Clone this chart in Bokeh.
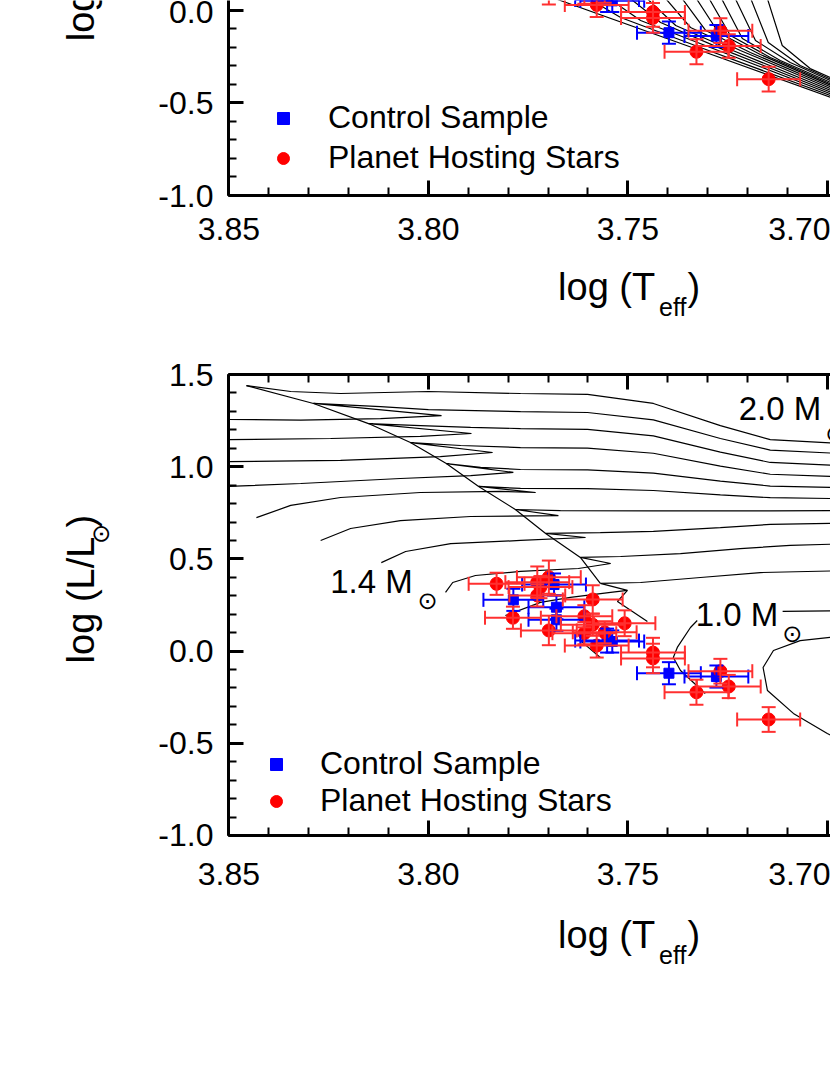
import math
from bokeh.plotting import figure
from bokeh.models import (Range1d, LinearAxis, Whisker, TeeHead, ColumnDataSource, Label,
                          Legend, LegendItem, FixedTicker, PrintfTickFormatter,
                          CustomJSTickFormatter)
from bokeh.layouts import column, row
from bokeh.embed import file_html
from bokeh.resources import INLINE

FONT = "Liberation Sans"

# ---------------- data ----------------
# Planet hosting stars (red)
phs_logT = [3.7829, 3.7727, 3.7698, 3.7719, 3.7727, 3.7788, 3.7698, 3.7588, 3.7609, 3.7588,
            3.7609, 3.7558, 3.7578, 3.7508, 3.7437, 3.7437, 3.7268, 3.7247, 3.7328, 3.7147]
phs_logL = [0.365, 0.374, 0.401, 0.347, 0.302, 0.181, 0.112, 0.280, 0.189, 0.143,
            0.097, 0.102, 0.030, 0.151, -0.008, -0.040, -0.109, -0.192, -0.223, -0.371]
phs_eT = [0.007, 0.008, 0.008, 0.008, 0.007, 0.007, 0.007, 0.0075, 0.007, 0.008,
          0.008, 0.008, 0.008, 0.0077, 0.008, 0.008, 0.008, 0.008, 0.008, 0.0079]
phs_eL = [0.06, 0.085, 0.09, 0.06, 0.06, 0.06, 0.08, 0.077, 0.06, 0.06,
          0.06, 0.06, 0.065, 0.07, 0.08, 0.08, 0.067, 0.063, 0.068, 0.067]

# Control sample (blue)
ctl_logT = [3.7787, 3.7685, 3.7679, 3.7679, 3.7552, 3.7539, 3.7397, 3.7278]
ctl_logL = [0.278, 0.361, 0.238, 0.170, 0.057, 0.052, -0.120, -0.138]
ctl_eT = [0.0075, 0.008, 0.007, 0.007, 0.008, 0.008, 0.008, 0.008]
ctl_eL = [0.06, 0.06, 0.065, 0.06, 0.065, 0.06, 0.06, 0.06]

# Evolutionary tracks (lower panel)
trk_A_T = [3.8456, 3.8345, 3.8220, 3.8000, 3.7769, 3.7601, 3.7436, 3.7268, 3.7143, 3.6942]
trk_A_L = [1.440, 1.408, 1.397, 1.408, 1.397, 1.392, 1.343, 1.223, 1.147, 1.123]
trk_B_T = [3.8501, 3.8320, 3.8120, 3.7967, 3.8288, 3.8120, 3.8000, 3.7769, 3.7601, 3.7436,
           3.7268, 3.7143, 3.6942]
trk_B_L = [1.256, 1.253, 1.261, 1.277, 1.343, 1.326, 1.310, 1.299, 1.294, 1.254,
           1.153, 1.090, 1.069]
trk_C_T = [3.8501, 3.8245, 3.8020, 3.7892, 3.8150, 3.8020, 3.7894, 3.7769, 3.7601, 3.7436,
           3.7268, 3.7143, 3.6942]
trk_C_L = [1.147, 1.153, 1.164, 1.180, 1.234, 1.223, 1.213, 1.207, 1.203, 1.167,
           1.079, 1.023, 1.004]
trk_D_T = [3.8501, 3.8220, 3.7970, 3.7839, 3.8045, 3.7919, 3.7769, 3.7601, 3.7436, 3.7268,
           3.7143, 3.6942]
trk_D_L = [1.028, 1.034, 1.055, 1.077, 1.131, 1.115, 1.104, 1.101, 1.073, 1.003, 0.959, 0.944]
trk_E_T = [3.8501, 3.8320, 3.8070, 3.7894, 3.7787, 3.7955, 3.7869, 3.7769, 3.7601, 3.7436,
           3.7268, 3.7143, 3.6942]
trk_E_L = [0.893, 0.909, 0.936, 0.952, 0.969, 1.017, 0.996, 0.985, 0.983, 0.965,
           0.922, 0.895, 0.886]
trk_F_T = [3.8431, 3.8345, 3.8220, 3.8020, 3.7819, 3.7731, 3.7874, 3.7769, 3.7601, 3.7436,
           3.7268, 3.7143, 3.6942]
trk_F_L = [0.724, 0.790, 0.833, 0.860, 0.866, 0.860, 0.893, 0.882, 0.881, 0.871,
           0.847, 0.832, 0.826]
trk_G_T = [3.8270, 3.8195, 3.8070, 3.7894, 3.7674, 3.7782, 3.7669, 3.7436, 3.7268, 3.7143, 3.6942]
trk_G_L = [0.600, 0.665, 0.708, 0.730, 0.735, 0.768, 0.762, 0.760, 0.760, 0.761, 0.762]
trk_H_T = [3.8118, 3.8057, 3.7944, 3.7769, 3.7606, 3.7706, 3.7569, 3.7436, 3.7268, 3.7143, 3.6942]
trk_H_L = [0.480, 0.540, 0.583, 0.600, 0.616, 0.638, 0.643, 0.649, 0.670, 0.687, 0.694]
trk_I_T = [3.7957, 3.7939, 3.7882, 3.7769, 3.7624, 3.7543, 3.7619, 3.7518, 3.7368, 3.7218,
           3.7093, 3.6942]
trk_I_L = [0.318, 0.372, 0.410, 0.432, 0.448, 0.475, 0.508, 0.513, 0.529, 0.556, 0.573, 0.583]
trk_J_T = [3.7807, 3.7719, 3.7644, 3.7543, 3.7501, 3.7569, 3.7468, 3.7318, 3.7168, 3.6942]
trk_J_L = [0.193, 0.264, 0.291, 0.318, 0.329, 0.367, 0.372, 0.399, 0.426, 0.437]
trk_zig_T = [3.7501, 3.7526, 3.7451]
trk_zig_L = [0.329, 0.269, 0.161]
trk_tail_T = [3.7619, 3.7569]
trk_tail_L = [0.057, -0.035]
trk_K1_T = [3.7306, 3.7368, 3.7386, 3.7376, 3.7343, 3.7326]
trk_K1_L = [-0.230, -0.105, -0.035, 0.020, 0.128, 0.166]
trk_K2_T = [3.7112, 3.6942]
trk_K2_L = [0.215, 0.220]
trk_L_T = [3.6942, 3.6993, 3.7068, 3.7135, 3.7161, 3.7150, 3.7085, 3.7000, 3.6942]
trk_L_L = [0.079, 0.074, 0.057, 0.003, -0.089, -0.214, -0.338, -0.447, -0.512]
trk_diag_T = [3.8456, 3.8288, 3.8150, 3.8045, 3.7955, 3.7874, 3.7782, 3.7706, 3.7619, 3.7569]
trk_diag_L = [1.440, 1.343, 1.234, 1.131, 1.017, 0.893, 0.768, 0.638, 0.508, 0.367]

# Lines in the upper panel (fan converging to the lower right)
fan_T = [
    [3.6942, 3.7318, 3.7669, 3.7724], [3.6942, 3.7318, 3.7518, 3.7624],
    [3.6942, 3.7293, 3.7468, 3.7569], [3.6942, 3.7268, 3.7418, 3.7513],
    [3.6942, 3.7243, 3.7380, 3.7468], [3.6942, 3.7218, 3.7343, 3.7418],
    [3.6942, 3.7193, 3.7305, 3.7375], [3.6942, 3.7168, 3.7273, 3.7338],
    [3.6942, 3.7143, 3.7243, 3.7305], [3.6942, 3.7118, 3.7213, 3.7273],
    [3.6942, 3.7093, 3.7180, 3.7238], [3.6942, 3.7068, 3.7148, 3.7198],
    [3.6942, 3.7043, 3.7113, 3.7155],
]
fan_L = [
    [-0.508, -0.216, 0.054, 0.097], [-0.500, -0.200, -0.038, 0.097],
    [-0.492, -0.200, -0.054, 0.097], [-0.484, -0.205, -0.065, 0.097],
    [-0.476, -0.211, -0.081, 0.097], [-0.468, -0.216, -0.092, 0.097],
    [-0.459, -0.227, -0.108, 0.097], [-0.451, -0.238, -0.119, 0.097],
    [-0.443, -0.254, -0.135, 0.097], [-0.435, -0.270, -0.151, 0.097],
    [-0.427, -0.281, -0.162, 0.097], [-0.419, -0.297, -0.173, 0.097],
    [-0.411, -0.314, -0.189, 0.097],
]

# tick positions
x_major = [3.70, 3.75, 3.80, 3.85]
x_minor = [3.70, 3.71, 3.72, 3.73, 3.74, 3.75, 3.76, 3.77, 3.78, 3.79, 3.80, 3.81, 3.82,
           3.83, 3.84, 3.85]
y_major_bot = [-1.0, -0.5, 0.0, 0.5, 1.0, 1.5]
y_minor_bot = [-1.0, -0.9, -0.8, -0.7, -0.6, -0.5, -0.4, -0.3, -0.2, -0.1, 0.0, 0.1, 0.2, 0.3,
               0.4, 0.5, 0.6, 0.7, 0.8, 0.9, 1.0, 1.1, 1.2, 1.3, 1.4, 1.5]
y_major_top = [-1.0, -0.5, 0.0]
y_minor_top = [-1.0, -0.9, -0.8, -0.7, -0.6, -0.5, -0.4, -0.3, -0.2, -0.1, 0.0]

# mass labels: text, logT, logL
mass_text = ["1.4 M", "1.0 M", "2.0 M"]
mass_T = [3.8246, 3.7330, 3.7222]
mass_L = [0.376, 0.201, 1.316]
sun_T = [3.8002, 3.7088, 3.6980]
sun_L = [0.274, 0.094, 1.180]

RED = "#ff0000"
RED_BAR = "#ff3030"
BLUE = "#0000ff"
X_START, X_END = 3.8501, 3.6992
PANEL_W = 710      # panel figure: x 120 .. 830, frame x 228 .. 830
TITLE_W = 120


def style_axis(ax, label_size="32px", standoff=16):
    ax.axis_line_width = 3
    ax.axis_line_color = "black"
    ax.major_tick_line_width = 3
    ax.minor_tick_line_width = 2
    ax.major_tick_line_color = "black"
    ax.minor_tick_line_color = "black"
    ax.major_tick_in = 15
    ax.major_tick_out = 0
    ax.minor_tick_in = 8
    ax.minor_tick_out = 0
    ax.major_label_text_font = FONT
    ax.major_label_text_font_size = label_size
    ax.major_label_text_color = "black"
    ax.major_label_standoff = standoff


def make_panel(height, y_start, y_end, b_top, b_bottom, y_major, y_minor, x_standoff, with_top):
    p = figure(width=PANEL_W, height=height, x_range=Range1d(X_START, X_END),
               y_range=Range1d(y_start, y_end), output_backend="svg", toolbar_location=None,
               x_axis_type=None, y_axis_type=None,
               min_border_left=108, min_border_right=0, min_border_top=b_top,
               min_border_bottom=b_bottom)
    p.outline_line_color = None
    xa = LinearAxis(ticker=FixedTicker(ticks=x_major, minor_ticks=x_minor),
                    formatter=PrintfTickFormatter(format="%.2f"))
    style_axis(xa, standoff=x_standoff)
    p.add_layout(xa, "below")
    ya = LinearAxis(ticker=FixedTicker(ticks=y_major, minor_ticks=y_minor),
                    formatter=PrintfTickFormatter(format="%.1f"))
    style_axis(ya, standoff=15)
    p.add_layout(ya, "left")
    if with_top:
        ta = LinearAxis(ticker=FixedTicker(ticks=x_major, minor_ticks=x_minor),
                        formatter=CustomJSTickFormatter(code="return ''"))
        style_axis(ta, standoff=0)
        p.add_layout(ta, "above")
    return p


def blank(width, height):
    p = figure(width=width, height=height, x_range=Range1d(0, width), y_range=Range1d(0, height),
               output_backend="svg", toolbar_location=None, x_axis_type=None, y_axis_type=None,
               min_border=0, min_border_left=0, min_border_right=0, min_border_top=0,
               min_border_bottom=0)
    p.outline_line_color = None
    return p


def add_data(p, leg_x, leg_y, spacing, standoff):
    src_c = ColumnDataSource(dict(
        x=ctl_logT, y=ctl_logL,
        xl=[t - e for t, e in zip(ctl_logT, ctl_eT)], xu=[t + e for t, e in zip(ctl_logT, ctl_eT)],
        yl=[l - e for l, e in zip(ctl_logL, ctl_eL)], yu=[l + e for l, e in zip(ctl_logL, ctl_eL)]))
    src_p = ColumnDataSource(dict(
        x=phs_logT, y=phs_logL,
        xl=[t - e for t, e in zip(phs_logT, phs_eT)], xu=[t + e for t, e in zip(phs_logT, phs_eT)],
        yl=[l - e for l, e in zip(phs_logL, phs_eL)], yu=[l + e for l, e in zip(phs_logL, phs_eL)]))
    for src, col in ((src_c, BLUE), (src_p, RED_BAR)):
        p.add_layout(Whisker(source=src, base="y", lower="xl", upper="xu", dimension="width",
                             line_color=col, line_width=2, level="glyph",
                             lower_head=TeeHead(size=14, line_color=col, line_width=2),
                             upper_head=TeeHead(size=14, line_color=col, line_width=2)))
        p.add_layout(Whisker(source=src, base="x", lower="yl", upper="yu", dimension="height",
                             line_color=col, line_width=2, level="glyph",
                             lower_head=TeeHead(size=14, line_color=col, line_width=2),
                             upper_head=TeeHead(size=14, line_color=col, line_width=2)))
    rc = p.scatter("x", "y", source=src_c, marker="square", size=10, color=BLUE)
    rp = p.scatter("x", "y", source=src_p, marker="circle", size=13, color=RED)
    leg = Legend(items=[LegendItem(label="Control Sample", renderers=[rc]),
                        LegendItem(label="Planet Hosting Stars", renderers=[rp])],
                 location=(leg_x, leg_y), orientation="vertical",
                 label_text_font=FONT, label_text_font_size="32px", label_text_color="black",
                 glyph_width=30, glyph_height=34, label_height=34, spacing=spacing,
                 label_standoff=standoff, padding=0, margin=0,
                 border_line_color=None, background_fill_alpha=0)
    p.add_layout(leg)


def x_title(height, mid_y, sub_mid_y):
    p = blank(830, height)
    p.add_layout(Label(x=557.6, y=mid_y, text="log (T", text_font=FONT, text_font_size="38px",
                       text_align="left", text_baseline="middle", text_color="black"))
    p.add_layout(Label(x=658.5, y=sub_mid_y, text="eff", text_font=FONT, text_font_size="25px",
                       text_align="left", text_baseline="middle", text_color="black"))
    p.add_layout(Label(x=687.0, y=mid_y, text=")", text_font=FONT, text_font_size="38px",
                       text_align="left", text_baseline="middle", text_color="black"))
    return p


def y_title(height, center_y, full):
    # rotated title, positions are centres of each text piece along the axis
    p = blank(TITLE_W, height)
    p.add_layout(Label(x=80, y=center_y, text="log (L/L", text_font=FONT, text_font_size="38px",
                       angle=math.pi / 2, text_align="center", text_baseline="middle",
                       text_color="black"))
    if full:
        p.add_layout(Label(x=100, y=center_y + 79.5, text="\u2299", text_font="DejaVu Sans",
                           text_font_size="24px", angle=math.pi / 2, text_align="center",
                           text_baseline="middle", text_color="black"))
        p.add_layout(Label(x=80, y=center_y + 95, text=")", text_font=FONT,
                           text_font_size="38px", angle=math.pi / 2, text_align="center",
                           text_baseline="middle", text_color="black"))
    return p


# ---------------- upper panel (page y 0..255) ----------------
top = make_panel(255, -1.0, 0.054, 0, 60, y_major_top, y_minor_top, 22, False)
top.multi_line(xs=fan_T, ys=fan_L, line_color="black", line_width=1.2)
add_data(top, 40, 19, 3, 30)

# ---------------- lower panel (page y 340..895) ----------------
bot = make_panel(555, -1.0001, 1.5001, 34, 60, y_major_bot, y_minor_bot, 27, True)
tracks_T = [trk_A_T, trk_B_T, trk_C_T, trk_D_T, trk_E_T, trk_F_T, trk_G_T, trk_H_T, trk_I_T,
            trk_J_T, trk_zig_T, trk_tail_T, trk_K1_T, trk_K2_T, trk_L_T, trk_diag_T]
tracks_L = [trk_A_L, trk_B_L, trk_C_L, trk_D_L, trk_E_L, trk_F_L, trk_G_L, trk_H_L, trk_I_L,
            trk_J_L, trk_zig_L, trk_tail_L, trk_K1_L, trk_K2_L, trk_L_L, trk_diag_L]
bot.multi_line(xs=tracks_T, ys=tracks_L, line_color="black", line_width=1.2)
add_data(bot, 33, 16, 0, 29)

for txt, x, y in zip(mass_text, mass_T, mass_L):
    bot.add_layout(Label(x=x, y=y, text=txt, text_font=FONT, text_font_size="33px",
                         text_align="left", text_baseline="middle", text_color="black"))
for x, y in zip(sun_T, sun_L):
    bot.add_layout(Label(x=x, y=y, text="\u2299", text_font="DejaVu Sans", text_font_size="24px",
                         text_align="center", text_baseline="middle", text_color="black"))

layout = column(
    row(y_title(255, 284.5, False), top),
    x_title(85, 53.2, 33.7),
    row(y_title(555, 283.5, True), bot),
    x_title(105, 65.7, 45.7),
)
open("out.html", "w").write(file_html(layout, INLINE))
